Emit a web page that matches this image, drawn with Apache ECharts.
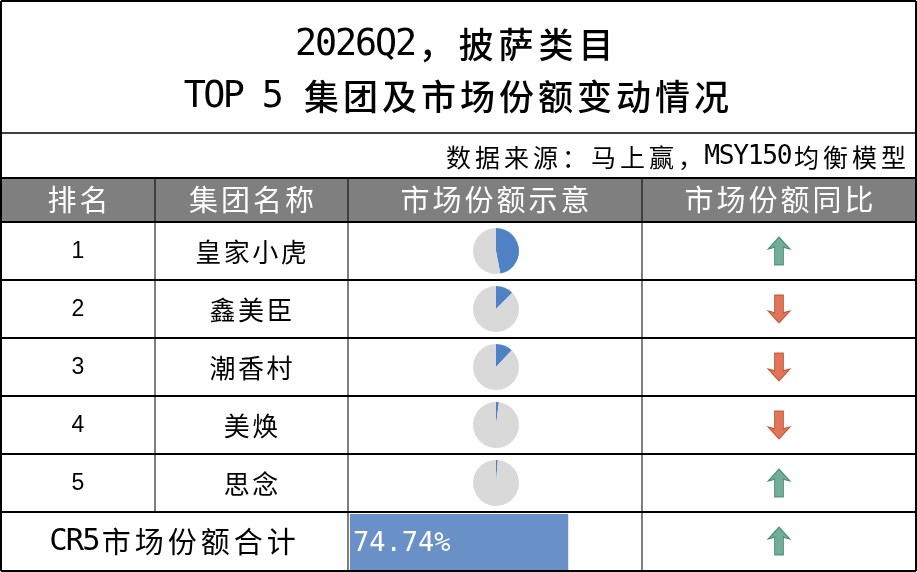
<![CDATA[<!DOCTYPE html><html><head><meta charset="utf-8"><script src="https://cdn.jsdelivr.net/npm/echarts@6/dist/echarts.min.js"></script>
<style>html,body{margin:0;padding:0;background:#fff}#c{width:917px;height:572px}</style></head><body><div id="c"></div><script>
const titleLines=['2026Q2，披萨类目','TOP 5 集团及市场份额变动情况'];
const sourceText='数据来源：马上赢，MSY150均衡模型';
const headers=['排名','集团名称','市场份额示意','市场份额同比'];
const ranks=['1','2','3','4','5'];
const groups=['皇家小虎','鑫美臣','潮香村','美焕','思念'];
const shares=[47.0,12.5,12.0,2.0,1.24];
const trends=['up','down','down','down','up','up'];
const cr5Label='CR5市场份额合计';
const cr5=74.74;

const F='"Noto Sans CJK SC",sans-serif';
const colX=[1,155,348,642,916];
const rowY=[222,280,338,396,454,512,570];
const g=[];
const isHalf=c=>c.charCodeAt(0)<256;
function spaced(text,x,y,size,adv,color,align,weight){
  const chars=[...text];const tot=chars.reduce((s,c)=>s+(isHalf(c)?adv/2:adv),0);
  let cx=align==='right'?x-tot:x-tot/2;
  chars.forEach(c=>{const w=isHalf(c)?adv/2:adv;
    if(c!==' ')g.push({type:'text',x:cx+w/2,y,z:20,style:{text:c,font:(weight||'normal')+' '+(isHalf(c)?size*1.05:size)+'px '+(isHalf(c)?'"DejaVu Sans Mono",monospace':F),fill:color,align:'center',verticalAlign:'middle'}});
    cx+=w;});
}
const line=(x1,y1,x2,y2,w)=>g.push({type:'line',shape:{x1,y1,x2,y2},style:{stroke:'#000',lineWidth:w},z:10});
g.push({type:'rect',shape:{x:1,y:178,width:915,height:44},style:{fill:'#7f7f7f'}});
spaced(titleLines[0],456,45,35,40,'#000','center','500');
spaced(titleLines[1],458,97,35,39,'#000','center','500');
spaced(sourceText,908,157,25,29,'#000','right');
headers.forEach((h,i)=>spaced(h,(colX[i]+colX[i+1])/2,200,29,32,'#fff','center'));
ranks.forEach((r,i)=>{
 g.push({type:'text',x:78,y:(rowY[i]+rowY[i+1])/2+1,style:{text:r,font:'23px "Liberation Sans",sans-serif',fill:'#000',align:'center',verticalAlign:'middle'}});
 spaced(groups[i],251,(rowY[i]+rowY[i+1])/2+1,26,28.5,'#000','center');
});
spaced(cr5Label,174,542,29,33,'#000','center');
line(1,1,916,1,2);line(1,571,916,571,2);line(1,1,1,571,2);line(916,1,916,571,2);
line(1,133,916,133,1.5);line(1,178,916,178,2);
rowY.slice(0,6).forEach(y=>line(1,y,916,y,2));
[155,348,642].forEach((x,i)=>line(x,178,x,i==0?512:570,1));

const series=[];
shares.forEach((s,i)=>series.push({type:'pie',center:[496,(rowY[i]+rowY[i+1])/2],radius:23,startAngle:90,silent:true,label:{show:false},labelLine:{show:false},
 data:[{value:s,itemStyle:{color:'#4f81c5'}},{value:100-s,itemStyle:{color:'#d9d9d9'}}]}));
series.push({type:'bar',xAxisIndex:0,yAxisIndex:0,data:[cr5],barWidth:'100%',itemStyle:{color:'#6a90c8'},silent:true,
 label:{show:true,position:'insideLeft',offset:[-2,2],formatter:p=>p.value.toFixed(2)+'%',color:'#fff',fontSize:27,fontFamily:'"DejaVu Sans Mono",monospace'}});
const up='path://M5,0 L10,6 L8,5.5 L7,5 L7,14 L3,14 L3,5 L2,5.5 L0,6 Z';
const down='path://M3,0 L7,0 L7,9 L8,8.5 L10,8 L5,14 L0,8 L2,8.5 L3,9 Z';
series.push({type:'scatter',xAxisIndex:1,yAxisIndex:1,silent:true,symbolSize:[22,28],
 data:trends.map((t,i)=>({value:[0,i],symbol:t=='up'?up:down,itemStyle:{color:t=='up'?'#4e9a80':'#d9532e',borderColor:t=='up'?'#2f7a5f':'#b8401f',borderWidth:1}}))});
const ch=echarts.init(document.getElementById('c'));
ch.setOption({animation:false,
 grid:[{left:350,top:514,width:292,height:56},{left:642,top:222,width:274,height:348}],
 xAxis:[{type:'value',min:0,max:100,show:false,gridIndex:0},{type:'category',data:['a'],show:false,gridIndex:1}],
 yAxis:[{type:'category',data:['cr5'],show:false,gridIndex:0},{type:'category',data:trends.map((t,i)=>'r'+i),inverse:true,show:false,gridIndex:1}],
 series,graphic:g});
</script></body></html>]]>
